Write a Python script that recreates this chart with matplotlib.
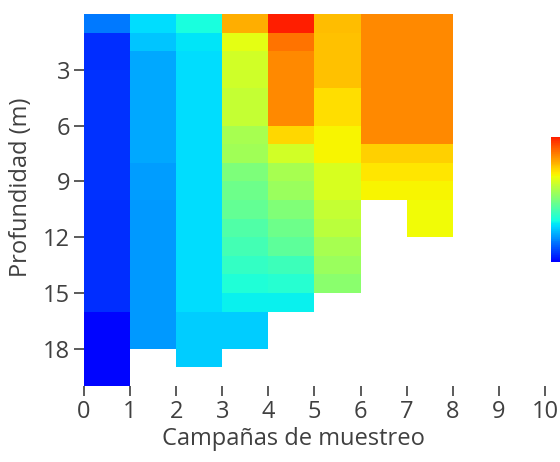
import numpy as np
import matplotlib
matplotlib.use("Agg")
import matplotlib.pyplot as plt
from matplotlib.colors import ListedColormap

plt.rcParams['font.family'] = ['Open Sans', 'DejaVu Sans']

# valores normalizados (0 = azul, 1 = rojo), una lista por campaña, de 0 m hacia abajo
camp0 = [0.16, 0.06, 0.06, 0.07, 0.07, 0.07, 0.07, 0.07, 0.07, 0.07,
         0.06, 0.06, 0.06, 0.06, 0.06, 0.06, 0.01, 0.01, 0.01, 0.01]
camp1 = [0.29, 0.26, 0.22, 0.22, 0.22, 0.22, 0.22, 0.22, 0.21, 0.21,
         0.20, 0.20, 0.20, 0.20, 0.20, 0.20, 0.20, 0.20]
camp2 = [0.34, 0.30, 0.29, 0.29, 0.29, 0.29, 0.29, 0.29, 0.29, 0.29,
         0.29, 0.29, 0.29, 0.29, 0.29, 0.29, 0.27, 0.27, 0.27]
camp3 = [0.80, 0.67, 0.64, 0.63, 0.62, 0.62, 0.57, 0.56, 0.50, 0.48,
         0.46, 0.43, 0.41, 0.38, 0.35, 0.32, 0.27, 0.27]
camp4 = [1.00, 0.88, 0.85, 0.85, 0.85, 0.85, 0.74, 0.64, 0.57, 0.55,
         0.51, 0.48, 0.45, 0.40, 0.36, 0.32]
camp5 = [0.78, 0.77, 0.77, 0.77, 0.73, 0.73, 0.70, 0.70, 0.65, 0.65,
         0.62, 0.60, 0.57, 0.55, 0.52]
camp6 = [0.85, 0.85, 0.85, 0.85, 0.85, 0.85, 0.85, 0.75, 0.72, 0.70]
camp7 = [0.85, 0.85, 0.85, 0.85, 0.85, 0.85, 0.85, 0.75, 0.72, 0.70,
         0.69, 0.69]

campanas = [camp0, camp1, camp2, camp3, camp4, camp5, camp6, camp7]
n_prof = 20

data = np.full((n_prof, len(campanas)), np.nan)
for j, col in enumerate(campanas):
    data[:len(col), j] = col
data = np.ma.masked_invalid(data)

cmap = ListedColormap(plt.cm.jet(np.linspace(0.125, 0.875, 256)))

fig = plt.figure(figsize=(5.6, 4.62), dpi=100)
ax = fig.add_axes([0.15, 0.1645, 0.823, 0.805])
x_edges = np.arange(len(campanas) + 1)
y_edges = np.arange(n_prof + 1)
mesh = ax.pcolormesh(x_edges, y_edges, data, cmap=cmap, vmin=0, vmax=1)

ax.set_xlim(0, 10)
ax.set_ylim(n_prof, 0)
ax.set_xticks(range(0, 11))
ax.set_yticks([3, 6, 9, 12, 15, 18])
for s in ax.spines.values():
    s.set_visible(False)
ax.tick_params(axis='both', colors='#404040', labelsize=17, length=7, width=1.2,
               labelcolor='#404040', pad=3)
ax.set_xlabel('Campañas de muestreo', fontsize=17, color='#404040')
ax.set_ylabel('Profundidad (m)', fontsize=17, color='#404040')
ax.xaxis.set_label_coords(0.455, -0.11)
ax.yaxis.set_label_coords(-0.11, 0.535)

cax = fig.add_axes([0.984, 0.433, 0.03, 0.27])
cb = fig.colorbar(mesh, cax=cax)
cb.outline.set_visible(False)
cb.set_ticks([])

fig.savefig('out.png', dpi=100)
